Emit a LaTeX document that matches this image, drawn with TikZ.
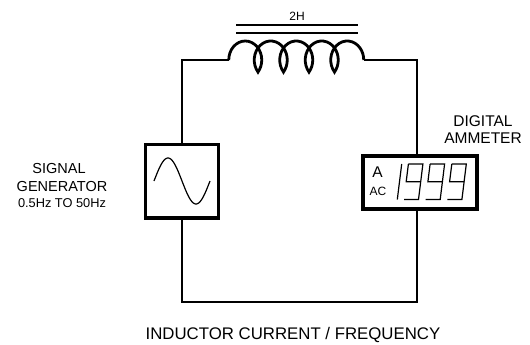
\documentclass[tikz,border=0pt]{standalone}
\usepackage{fontspec}
\setmainfont{Liberation Sans}
\begin{document}
\begin{tikzpicture}[x=1pt,y=1pt,
  wire/.style={line width=1.3pt},
  thickbox/.style={draw, rectangle, inner sep=0pt},
  coilstyle/.style={line width=2.8pt},
  seg/.style={line width=1.2pt, line join=miter},
  lbl/.style={anchor=base, inner sep=0pt}]
\useasboundingbox (0,0) rectangle (530,-345);

% core lines
\draw[line width=1.5pt] (236,-25) -- (358,-25);
\draw[line width=1.5pt] (236,-33) -- (358,-33);
\node[lbl, font=\fontsize{12}{14}\selectfont] (lh) at (297,-20.7) {2H};

% coil
\coordinate (coilL) at (228.75,-60);
\draw[coilstyle] (coilL)
  arc[start angle=180, end angle=-39.4, x radius=16.5pt, y radius=19pt]
  arc[start angle=219.4, end angle=-39.4, x radius=16.5pt, y radius=19pt]
  arc[start angle=219.4, end angle=-39.4, x radius=16.5pt, y radius=19pt]
  arc[start angle=219.4, end angle=-39.4, x radius=16.5pt, y radius=19pt]
  arc[start angle=219.4, end angle=0, x radius=16.5pt, y radius=19pt]
  coordinate (coilR);

% generator
\node[thickbox, line width=3.6pt, minimum width=73pt, minimum height=73.5pt] (gen) at (182,-181.3) {};
\draw[line width=1.2pt, domain=0:360, samples=80] plot ({154+\x/360*56},{-181+23*sin(\x)});

% ammeter
\node[thickbox, line width=4pt, minimum width=114.6pt, minimum height=52.4pt] (amm) at (420,-182.5) {};
\node[lbl, font=\fontsize{15.5}{17}\selectfont] (aa) at (377.5,-177.3) {A};
\node[lbl, font=\fontsize{12}{14}\selectfont] (ac) at (378,-195) {AC};
% digit 1
\draw[seg] (397.3,-199.5) -- (401.7,-164);
% digits 9
\foreach \bx in {404,425.7,447.4}{
  \draw[seg] (\bx+4.4,-164) -- (\bx+18.9,-164) -- (\bx+14.5,-199.5) -- (\bx,-199.5);
  \draw[seg] (\bx+4.4,-164) -- (\bx+2.2,-181.7) -- (\bx+16.7,-181.7);
}

% wires
\coordinate (botL) at (182,-302);
\coordinate (botR) at (417,-302);
\draw[wire] (coilL) -| (gen.north);
\draw[wire] (coilR) -| ([xshift=-3pt]amm.north);
\draw[wire] (gen.south) -- (botL) -- (botR) -- ([xshift=-3pt]amm.south);

% labels
\node[lbl, font=\fontsize{14.5}{17}\selectfont] (s1) at (59,-173.3) {SIGNAL};
\node[lbl, font=\fontsize{14.5}{17}\selectfont] (s2) at (62,-191.7) {GENERATOR};
\node[lbl, font=\fontsize{12.8}{15}\selectfont] (s3) at (62,-207) {0.5Hz TO 50Hz};
\node[lbl, font=\fontsize{15.5}{18}\selectfont] (d1) at (483,-126.7) {DIGITAL};
\node[lbl, font=\fontsize{15.5}{18}\selectfont] (d2) at (483,-143.3) {AMMETER};
\node[lbl, font=\fontsize{16.8}{19}\selectfont] (tt) at (293,-339.3) {INDUCTOR CURRENT / FREQUENCY};
\end{tikzpicture}
\end{document}
